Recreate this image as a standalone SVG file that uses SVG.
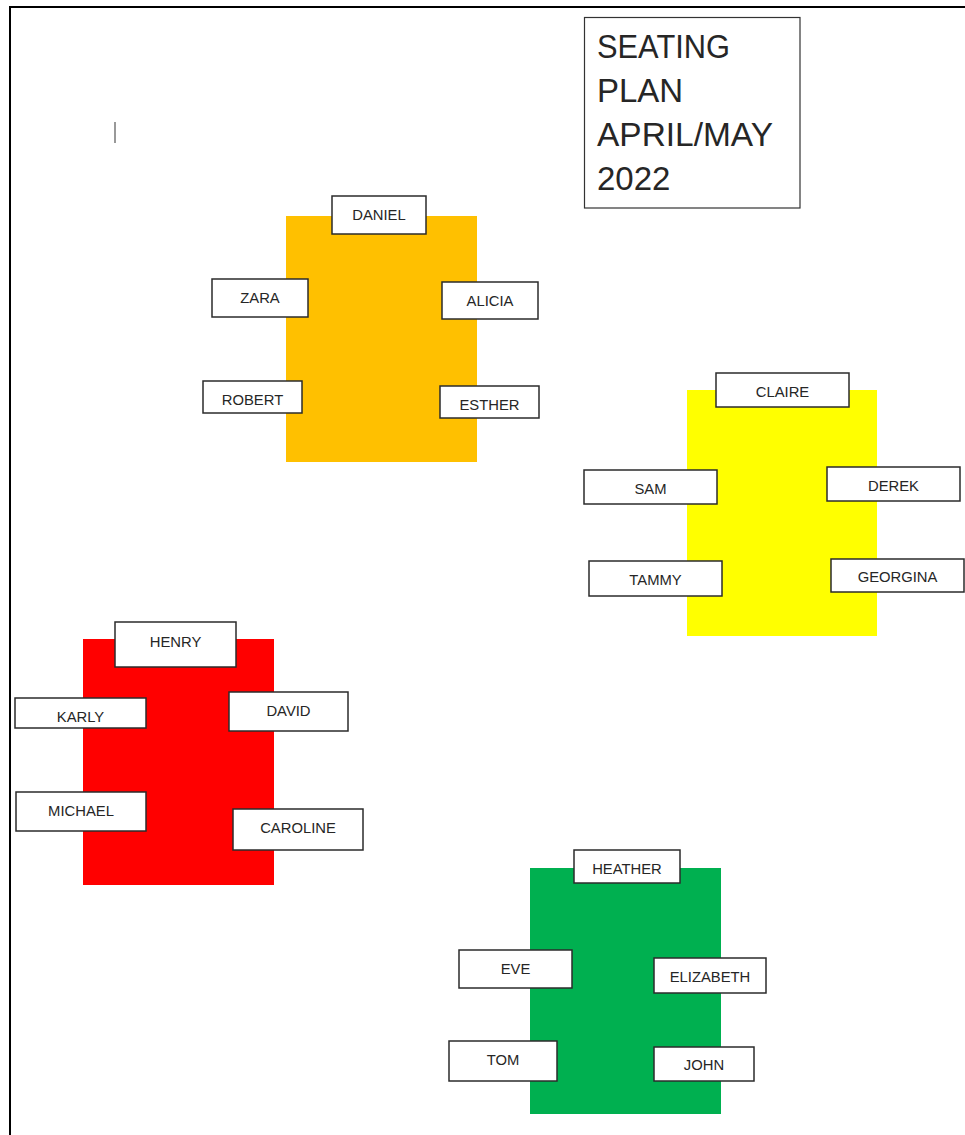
<svg xmlns="http://www.w3.org/2000/svg" width="965" height="1135" viewBox="0 0 965 1135">
<style>
.seat rect{fill:#fff;stroke:#2b2b2b;stroke-width:1.5}
.seat text{font-family:"Liberation Sans",Arial,sans-serif;font-size:14.8px;fill:#262626;text-anchor:middle}
.title{font-family:"Liberation Sans",Arial,sans-serif;font-size:33px;fill:#262626}
</style>
<rect x="0" y="0" width="965" height="1135" fill="#fff"/>
<g id="frame">
<line x1="10" y1="7" x2="965" y2="7" stroke="#000" stroke-width="2"/>
<line x1="10" y1="6" x2="10" y2="1135" stroke="#000" stroke-width="2"/>
<line x1="115" y1="122" x2="115" y2="143" stroke="#555" stroke-width="1.2"/>
</g>
<g id="title">
<rect x="584.5" y="17.5" width="215.5" height="190.5" fill="#fff" stroke="#333" stroke-width="1.2"/>
<text class="title" x="597" y="58" textLength="133" lengthAdjust="spacingAndGlyphs">SEATING</text>
<text class="title" x="597" y="102">PLAN</text>
<text class="title" x="597" y="146" textLength="176" lengthAdjust="spacingAndGlyphs">APRIL/MAY</text>
<text class="title" x="597" y="190">2022</text>
</g>
<g id="table-orange">
<rect x="286" y="216" width="191" height="246" fill="#FFC000"/>
</g>
<g id="table-yellow">
<rect x="687" y="390" width="190" height="246" fill="#FFFF00"/>
</g>
<g id="table-red">
<rect x="83" y="639" width="191" height="246" fill="#FF0000"/>
</g>
<g id="table-green">
<rect x="530" y="868" width="191" height="246" fill="#00B050"/>
</g>
<g id="connectors"></g>
<g id="daniel" class="seat"><rect x="332" y="196" width="94" height="38"/><text x="379" y="220">DANIEL</text></g>
<g id="zara" class="seat"><rect x="212" y="279" width="96" height="38"/><text x="260" y="303">ZARA</text></g>
<g id="alicia" class="seat"><rect x="442" y="282" width="96" height="37"/><text x="490" y="306">ALICIA</text></g>
<g id="robert" class="seat"><rect x="203" y="381" width="99" height="32"/><text x="252.5" y="405">ROBERT</text></g>
<g id="esther" class="seat"><rect x="440" y="386" width="99" height="32"/><text x="489.5" y="410">ESTHER</text></g>
<g id="claire" class="seat"><rect x="716" y="373" width="133" height="34"/><text x="782.5" y="397">CLAIRE</text></g>
<g id="sam" class="seat"><rect x="584" y="470" width="133" height="34"/><text x="650.5" y="494">SAM</text></g>
<g id="derek" class="seat"><rect x="827" y="467" width="133" height="34"/><text x="893.5" y="491">DEREK</text></g>
<g id="tammy" class="seat"><rect x="589" y="561" width="133" height="35"/><text x="655.5" y="585">TAMMY</text></g>
<g id="georgina" class="seat"><rect x="831" y="559" width="133" height="33"/><text x="897.5" y="582">GEORGINA</text></g>
<g id="henry" class="seat"><rect x="115" y="622" width="121" height="45"/><text x="175.5" y="647">HENRY</text></g>
<g id="karly" class="seat"><rect x="15" y="698" width="131" height="30"/><text x="80.5" y="722">KARLY</text></g>
<g id="david" class="seat"><rect x="229" y="692" width="119" height="39"/><text x="288.5" y="716">DAVID</text></g>
<g id="michael" class="seat"><rect x="16" y="792" width="130" height="39"/><text x="81" y="816">MICHAEL</text></g>
<g id="caroline" class="seat"><rect x="233" y="809" width="130" height="41"/><text x="298" y="833">CAROLINE</text></g>
<g id="heather" class="seat"><rect x="574" y="850" width="106" height="33"/><text x="627" y="874">HEATHER</text></g>
<g id="eve" class="seat"><rect x="459" y="950" width="113" height="38"/><text x="515.5" y="974">EVE</text></g>
<g id="elizabeth" class="seat"><rect x="654" y="958" width="112" height="35"/><text x="710" y="982">ELIZABETH</text></g>
<g id="tom" class="seat"><rect x="449" y="1041" width="108" height="40"/><text x="503" y="1065">TOM</text></g>
<g id="john" class="seat"><rect x="654" y="1047" width="100" height="34"/><text x="704" y="1070">JOHN</text></g>
</svg>
